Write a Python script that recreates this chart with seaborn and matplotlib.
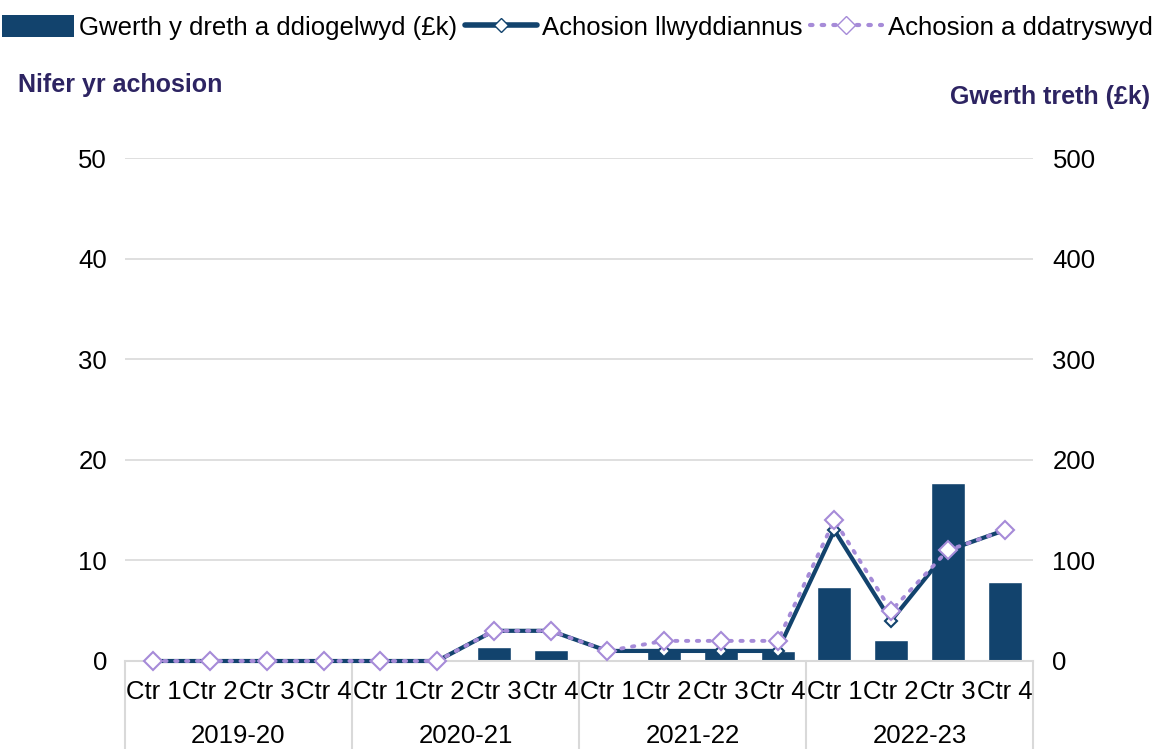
import numpy as np
import pandas as pd
import matplotlib.pyplot as plt
import matplotlib.transforms as mtransforms
from matplotlib.patches import Patch
from matplotlib.lines import Line2D
import seaborn as sns

sns.set_style("white")
plt.rcParams["font.family"] = ["Liberation Sans", "DejaVu Sans"]
plt.rcParams["font.size"] = 18.5
plt.rcParams["text.color"] = "black"
plt.rcParams["xtick.color"] = "black"
plt.rcParams["ytick.color"] = "black"

# colours
GLAS = "#12436D"
PORFFOR = "#A68BD8"
TEITL = "#2D2462"
LLWYD = "#D9D9D9"

# data
blynyddoedd = ["2019-20", "2020-21", "2021-22", "2022-23"]
chwarteri = ["Ctr 1", "Ctr 2", "Ctr 3", "Ctr 4"]
gwerth_treth = [0, 0, 0, 0, 0, 0, 14, 11, 1, 12, 12, 10, 74, 21, 177, 79]
achosion_llwyddiannus = [0, 0, 0, 0, 0, 0, 3, 3, 1, 1, 1, 1, 13, 4, 11, 13]
achosion_datrys = [0, 0, 0, 0, 0, 0, 3, 3, 1, 2, 2, 2, 14, 5, 11, 13]

df = pd.DataFrame({
    "blwyddyn": np.repeat(blynyddoedd, len(chwarteri)),
    "chwarter": chwarteri * len(blynyddoedd),
    "gwerth": gwerth_treth,
    "llwyddiannus": achosion_llwyddiannus,
    "datrys": achosion_datrys,
})
df["label"] = df["blwyddyn"] + " " + df["chwarter"]
df["pos"] = np.arange(len(df))

fig = plt.figure(figsize=(11.57, 7.49), dpi=100)
ax = fig.add_axes([125 / 1157, 1 - 661 / 749, 908 / 1157, 503 / 749])

# bars on the bottom axes (right-hand scale)
sns.barplot(data=df, x="label", y="gwerth", ax=ax, color=GLAS,
            saturation=1, width=0.6, errorbar=None, order=list(df["label"]))
ax.set_ylim(0, 500)
ax.set_yticks(range(0, 501, 100))
ax.grid(axis="y", color=LLWYD, linewidth=1.2)
ax.set_axisbelow(True)

# lines on the twin axes (left-hand scale)
ax2 = ax.twinx()
sns.lineplot(data=df, x="pos", y="llwyddiannus", ax=ax2, color=GLAS,
             linewidth=3, marker="D", markersize=6, markerfacecolor="white",
             markeredgecolor=GLAS, markeredgewidth=1.5, clip_on=False)
sns.lineplot(data=df, x="pos", y="datrys", ax=ax2, color=PORFFOR,
             linewidth=2.8, linestyle=(0, (0.6, 2.2)),
             dash_capstyle="round", marker="D", markersize=9,
             markerfacecolor="white", markeredgecolor=PORFFOR,
             markeredgewidth=1.5, clip_on=False)
ax2.set_ylim(0, 50)
ax2.set_yticks(range(0, 51, 10))

# swap sides: bars scale on the right, counts on the left
ax.yaxis.tick_right()
ax2.yaxis.tick_left()

for a in (ax, ax2):
    a.set_xlim(-0.5, len(df) - 0.5)
    a.set_xlabel("")
    a.set_ylabel("")
    for s in a.spines.values():
        s.set_visible(False)
ax.spines["bottom"].set_visible(True)
ax.spines["bottom"].set_color(LLWYD)
ax.spines["bottom"].set_linewidth(1.5)

ax.set_xticks(df["pos"])
ax.set_xticklabels(df["chwarter"])
ax.tick_params(axis="x", length=0, pad=14, labelsize=18.5)
ax.tick_params(axis="y", length=0, pad=14, labelsize=18.5)
ax2.tick_params(axis="y", length=0, pad=13, labelsize=18.5)
ax2.tick_params(axis="x", length=0)

# year labels and separators
trans = mtransforms.blended_transform_factory(ax.transData, ax.transAxes)
for i, bl in enumerate(blynyddoedd):
    ax.text(i * 4 + 1.5, -0.15, bl, transform=trans, ha="center",
            va="center", fontsize=18.5)
for i in range(len(blynyddoedd) + 1):
    ax.plot([i * 4 - 0.5, i * 4 - 0.5], [0, -0.2], transform=trans,
            color=LLWYD, linewidth=1.5, clip_on=False)

# axis titles
fig.text(18 / 1157, 1 - 85 / 749, "Nifer yr achosion", ha="left", va="center",
         fontsize=18, fontweight="bold", color=TEITL)
fig.text(1150 / 1157, 1 - 97 / 749, "Gwerth treth (£k)", ha="right",
         va="center", fontsize=18, fontweight="bold", color=TEITL)

# legend
handles = [
    Patch(facecolor=GLAS, edgecolor="none"),
    Line2D([], [], color=GLAS, linewidth=4, marker="D", markersize=7,
           markerfacecolor="white", markeredgecolor=GLAS),
    Line2D([], [], color=PORFFOR, linewidth=3, linestyle=(0, (0.6, 2.2)),
           dash_capstyle="round", marker="D", markersize=9,
           markerfacecolor="white", markeredgecolor=PORFFOR),
]
labels = ["Gwerth y dreth a ddiogelwyd (£k)", "Achosion llwyddiannus",
          "Achosion a ddatryswyd"]
fig.legend(handles, labels, loc="upper center", bbox_to_anchor=(0.499, 1.0),
           ncol=3, frameon=False, fontsize=18.5, handlelength=2.8,
           handleheight=0.9, handletextpad=0.2, columnspacing=0.3,
           borderaxespad=0.2)

fig.savefig("out.png", dpi=100)
